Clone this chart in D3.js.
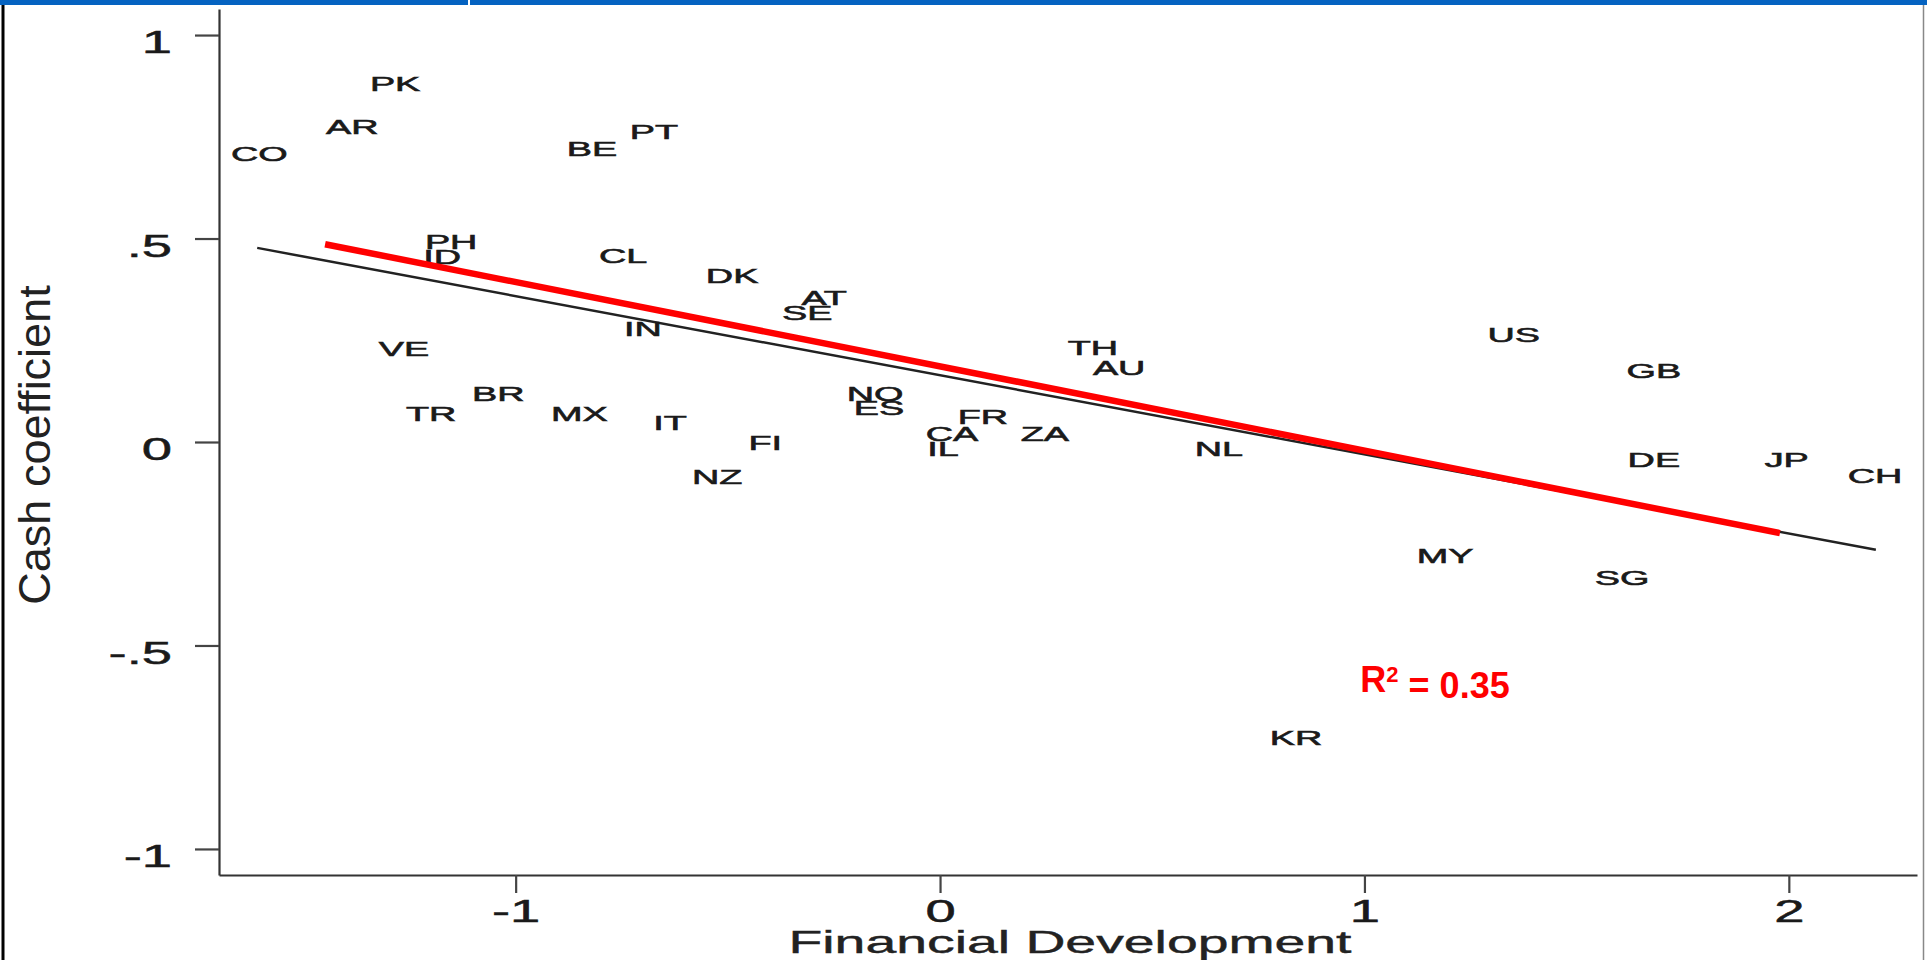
<!DOCTYPE html>
<meta charset="utf-8">
<script src="https://d3js.org/d3.v7.min.js"></script>
<style>
  body { margin: 0; background: #fff; }
  svg { display: block; }
  text { font-family: "Liberation Sans", Arial, sans-serif; fill: #222; }
</style>
<div id="my_dataviz"></div>
<script>

// country codes and their position (financial development, cash coefficient)
var codes = ["PK","AR","CO","BE","PT","PH","ID","CL","IN","VE","BR","TR","MX","IT",
             "DK","AT","SE","TH","AU","NO","ES","FR","CA","IL","ZA","FI","NL","NZ",
             "US","GB","DE","JP","CH","MY","SG","KR"]
var finDev = [-1.284,-1.385,-1.604,-0.820,-0.674,-1.152,-1.173,-0.747,-0.700,-1.263,-1.041,-1.199,-0.850,-0.636,
              -0.490,-0.273,-0.313,0.360,0.422,-0.153,-0.144,0.101,0.028,0.007,0.247,-0.412,0.657,-0.525,
              1.352,1.682,1.682,1.995,2.203,1.190,1.607,0.839]
var cashCoef = [0.882,0.776,0.710,0.722,0.762,0.494,0.455,0.459,0.280,0.231,0.120,0.071,0.071,0.049,
                0.410,0.356,0.319,0.233,0.184,0.120,0.086,0.064,0.022,-0.015,0.022,0.000,-0.017,-0.084,
                0.265,0.177,-0.044,-0.042,-0.081,-0.278,-0.334,-0.727]

// fitted line (black) and the red line drawn over it
var fitX = [-1.609, 2.205]
var fitY = [0.477, -0.265]
var redX = [-1.449, 1.979]
var redY = [0.486, -0.224]

// ticks
var xTicks = [-1, 0, 1, 2]
var xTickLabels = ["-1", "0", "1", "2"]
var yTicks = [1, 0.5, 0, -0.5, -1]
var yTickLabels = ["1", ".5", "0", "-.5", "-1"]

var width = 1927,
    height = 960

var svg = d3.select("#my_dataviz")
  .append("svg")
    .attr("width", width)
    .attr("height", height)

// frame and blue band at the top
svg.append("rect").attr("x", 0).attr("y", 0).attr("width", width).attr("height", height).attr("fill", "#fff")
svg.append("line").attr("x1", 3).attr("x2", 3).attr("y1", 0).attr("y2", height).attr("stroke", "#000").attr("stroke-width", 3)
svg.append("line").attr("x1", 1923.5).attr("x2", 1923.5).attr("y1", 0).attr("y2", height).attr("stroke", "#888").attr("stroke-width", 1.5)
svg.append("rect").attr("x", 0).attr("y", 0).attr("width", width).attr("height", 5).attr("fill", "#0563c1")
svg.append("line").attr("x1", 469).attr("x2", 469).attr("y1", 0).attr("y2", 5).attr("stroke", "#fff").attr("stroke-width", 2)

// scales
var x = d3.scaleLinear().domain([-1.699, 2.302]).range([219, 1917])
var y = d3.scaleLinear().domain([-1.064, 1.064]).range([875, 9])

var sx = 1.7  // horizontal stretch of the scanned text

// y axis
var yAxis = svg.append("g")
  .attr("transform", "translate(" + x(-1.699) + ",0)")
  .call(d3.axisLeft(y).tickValues(yTicks).tickFormat(function(d, i) { return yTickLabels[i] }).tickSize(24).tickSizeOuter(0))
yAxis.select(".domain").attr("stroke", "#333").attr("stroke-width", 2.2)
yAxis.selectAll(".tick line").attr("stroke", "#444").attr("stroke-width", 2.2)
yAxis.selectAll(".tick text")
  .attr("x", -47 / sx)
  .attr("dy", "0.55em")
  .attr("transform", "scale(" + sx + ",1)")
  .style("font-size", "32px")
  .style("fill", "#1a1a1a")
  .style("stroke", "#1a1a1a")
  .style("stroke-width", 0.5)

// x axis
var xAxis = svg.append("g")
  .attr("transform", "translate(0," + y(-1.064) + ")")
  .call(d3.axisBottom(x).tickValues(xTicks).tickFormat(function(d, i) { return xTickLabels[i] }).tickSize(18).tickSizeOuter(0))
xAxis.select(".domain").attr("stroke", "#333").attr("stroke-width", 2.2)
xAxis.selectAll(".tick line").attr("stroke", "#444").attr("stroke-width", 2.2)
xAxis.selectAll(".tick text")
  .attr("y", 47)
  .attr("dy", "0")
  .attr("x", 0)
  .attr("transform", "scale(" + sx + ",1)")
  .style("font-size", "32px")
  .style("fill", "#1a1a1a")
  .style("stroke", "#1a1a1a")
  .style("stroke-width", 0.5)

// axis titles
svg.append("text")
  .attr("transform", "translate(1070,953) scale(1.73,1)")
  .attr("text-anchor", "middle")
  .style("font-size", "32px")
  .style("stroke", "#222")
  .style("stroke-width", 0.4)
  .text("Financial Development")

svg.append("text")
  .attr("transform", "translate(50,445) rotate(-90)")
  .attr("text-anchor", "middle")
  .style("font-size", "45px")
  .text("Cash coefficient")

// fitted line
svg.append("line")
  .attr("x1", x(fitX[0])).attr("y1", y(fitY[0]))
  .attr("x2", x(fitX[1])).attr("y2", y(fitY[1]))
  .attr("stroke", "#222")
  .attr("stroke-width", 2.5)

// country labels
svg.selectAll("text.code")
  .data(codes)
  .enter()
  .append("text")
    .attr("class", "code")
    .attr("transform", function(d, i) { return "translate(" + x(finDev[i]) + "," + y(cashCoef[i]) + ") scale(1.8,1)" })
    .attr("text-anchor", "middle")
    .attr("dy", "0.36em")
    .style("font-size", "21px")
    .style("fill", "#1a1a1a")
    .style("stroke", "#1a1a1a")
    .style("stroke-width", 0.6)
    .text(function(d) { return d })

// red line on top
svg.append("line")
  .attr("x1", x(redX[0])).attr("y1", y(redY[0]))
  .attr("x2", x(redX[1])).attr("y2", y(redY[1]))
  .attr("stroke", "#ff0000")
  .attr("stroke-width", 6.5)

// R squared note
var r2 = svg.append("text")
  .attr("x", 1435)
  .attr("y", 692)
  .attr("text-anchor", "middle")
  .style("font-size", "36px")
  .style("font-weight", "bold")
  .style("fill", "#ff0000")
r2.append("tspan").text("R")
r2.append("tspan").attr("dy", "-0.45em").style("font-size", "22px").text("2")
r2.append("tspan").attr("dy", "0.45em").text(" = 0.35")

</script>
